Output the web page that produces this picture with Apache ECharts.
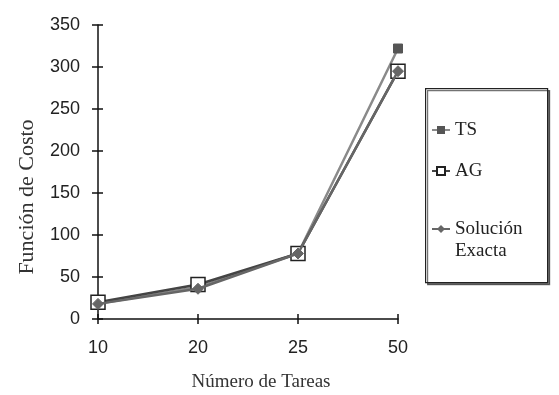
<!DOCTYPE html>
<html><head><meta charset="utf-8">
<script src="https://cdn.jsdelivr.net/npm/echarts@6/dist/echarts.min.js"></script>
<style>html,body{margin:0;padding:0;background:#fff}#c{width:559px;height:395px}</style>
</head><body><div id="c"></div>
<script>
const categories = ['10', '20', '25', '50'];
const tsValues = [18, 38, 78, 322];
const agValues = [20, 41, 78, 295];
const exactValues = [18, 36, 78, 295];
const yTicks = [0, 50, 100, 150, 200, 250, 300, 350];
const seriesNames = ['TS', 'AG', 'Solución Exacta'];

const chart = echarts.init(document.getElementById('c'));
const axisFont = { fontFamily: 'Liberation Sans', fontSize: 18, color: '#222' };
const legendBase = {
  orient: 'vertical', left: 431, padding: 0,
  itemWidth: 18, itemHeight: 10, itemGap: 0,
  textStyle: { fontFamily: 'Liberation Serif', fontSize: 19, color: '#222', lineHeight: 22 },
  formatter: n => n === 'Solución Exacta' ? '\nSolución\nExacta' : n
};
chart.setOption({
  animation: false,
  grid: { left: 98, right: 161, top: 25, bottom: 76, containLabel: false, outerBoundsMode: 'none' },
  graphic: [{
    type: 'rect', left: 425, top: 88, z: 0,
    shape: { width: 122, height: 194 },
    style: { fill: '#fff', stroke: '#222', lineWidth: 1.2,
      shadowColor: 'rgba(0,0,0,0.55)', shadowOffsetX: 2, shadowOffsetY: 2, shadowBlur: 0 }
  }],
  xAxis: [{
    type: 'category', data: categories, boundaryGap: false,
    name: 'Número de Tareas', nameLocation: 'middle', nameGap: 54,
    nameTextStyle: { fontFamily: 'Liberation Serif', fontSize: 19, color: '#333', padding: [0, 0, 0, 26] },
    axisLine: { lineStyle: { color: '#111', width: 1.5 } },
    axisTick: { alignWithLabel: true, length: 5, lineStyle: { color: '#111', width: 1.5 } },
    axisLabel: Object.assign({ margin: 20 }, axisFont),
    splitLine: { show: false }
  }, {
    type: 'category', data: categories, boundaryGap: false, position: 'bottom',
    axisLine: { show: false },
    axisTick: { inside: true, length: 5, lineStyle: { color: '#111', width: 1.5 } },
    axisLabel: { show: false }, splitLine: { show: false }
  }],
  yAxis: [{
    type: 'value', min: 0, max: 350, interval: 50,
    name: 'Función de Costo', nameLocation: 'middle', nameGap: 60,
    nameTextStyle: { fontFamily: 'Liberation Serif', fontSize: 22, color: '#333', padding: [0, 50, 0, 0] },
    axisLine: { show: true, lineStyle: { color: '#111', width: 1.5 } },
    axisTick: { show: true, length: 6, lineStyle: { color: '#111', width: 1.5 } },
    axisLabel: Object.assign({ margin: 18, formatter: v => yTicks.includes(v) ? String(v) : '' }, axisFont),
    splitLine: { show: false }
  }, {
    type: 'value', min: 0, max: 350, interval: 50, position: 'left',
    axisLine: { show: false },
    axisTick: { show: true, inside: true, length: 5, lineStyle: { color: '#111', width: 1.5 } },
    axisLabel: { show: false }, splitLine: { show: false }
  }],
  legend: [
    Object.assign({}, legendBase, { top: 119, data: [seriesNames[0]] }),
    Object.assign({}, legendBase, { top: 160, data: [seriesNames[1]] }),
    Object.assign({}, legendBase, { top: 196, data: [seriesNames[2]] })
  ],
  series: [{
    name: seriesNames[0], type: 'line', data: tsValues,
    symbol: 'rect', symbolSize: 9,
    lineStyle: { color: '#8a8a8a', width: 2.5 },
    itemStyle: { color: '#555', borderColor: '#555' }, z: 2
  }, {
    name: seriesNames[1], type: 'line', data: agValues,
    symbol: 'rect', symbolSize: 14,
    lineStyle: { color: '#444', width: 2.5 },
    itemStyle: { color: '#fff', borderColor: '#222', borderWidth: 1.5 }, z: 3
  }, {
    name: seriesNames[2], type: 'line', data: exactValues,
    symbol: 'diamond', symbolSize: 11,
    lineStyle: { color: '#666', width: 2.5 },
    itemStyle: { color: '#666', borderColor: '#666' }, z: 4
  }]
});
</script></body></html>
